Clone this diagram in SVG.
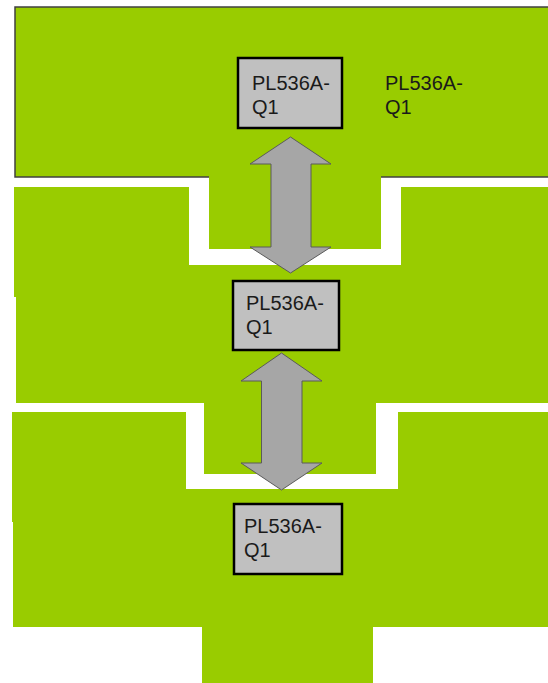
<svg xmlns="http://www.w3.org/2000/svg" width="548" height="683" viewBox="0 0 548 683">
  <style>
    .panel { fill: #99CC00; stroke: none; }
    .edge { fill: none; stroke: #404040; stroke-width: 1.5; }
    .box { fill: #C0C0C0; stroke: #000000; stroke-width: 2.5; }
    .lbl { font-family: "Liberation Sans", Arial, sans-serif; font-size: 20px; fill: #1a1a1a; }
    .arrow { fill: #A6A6A6; stroke: #5a5a5a; stroke-width: 1; stroke-linejoin: miter; }
  </style>
  <rect width="548" height="683" fill="#FFFFFF"/>
  <g id="panel-top">
    <polygon class="panel" points="15,7 548,7 548,177 381,177 381,249 209,249 209,177 15,177"/>
    <polyline class="edge" points="209,177 15,177 15,7 548,7"/>
    <line class="edge" x1="381" y1="177" x2="548" y2="177"/>
  </g>
  <g id="panel-middle">
    <polygon class="panel" points="14,187 189,187 189,265 401,265 401,187 548,187 548,403 376,403 376,474 204,474 204,403 16,403 16,297 14,297"/>
  </g>
  <g id="panel-bottom">
    <polygon class="panel" points="12,412 186,412 186,489 398,489 398,412 548,412 548,627 373,627 373,683 202,683 202,627 13,627 13,522 12,522"/>
  </g>
  <g id="connectors">
    <polygon class="arrow" points="290.5,137 331,164 311,164 311,247 331,247 290.5,273 250,247 271,247 271,164 250,164"/>
    <polygon class="arrow" points="281.5,353 322,381 302,381 302,463 322,463 281.5,490 241,463 261.5,463 261.5,381 241,381"/>
  </g>
  <g id="node-1">
    <rect class="box" x="238" y="58" width="104" height="70"/>
    <text class="lbl" x="252" y="90">PL536A-</text>
    <text class="lbl" x="252" y="114">Q1</text>
  </g>
  <g id="label-1">
    <text class="lbl" x="385" y="90">PL536A-</text>
    <text class="lbl" x="385" y="114">Q1</text>
  </g>
  <g id="node-2">
    <rect class="box" x="233" y="281" width="106" height="69"/>
    <text class="lbl" x="246" y="310">PL536A-</text>
    <text class="lbl" x="246" y="334">Q1</text>
  </g>
  <g id="node-3">
    <rect class="box" x="234" y="504" width="108" height="70"/>
    <text class="lbl" x="244" y="533">PL536A-</text>
    <text class="lbl" x="244" y="557">Q1</text>
  </g>
</svg>
